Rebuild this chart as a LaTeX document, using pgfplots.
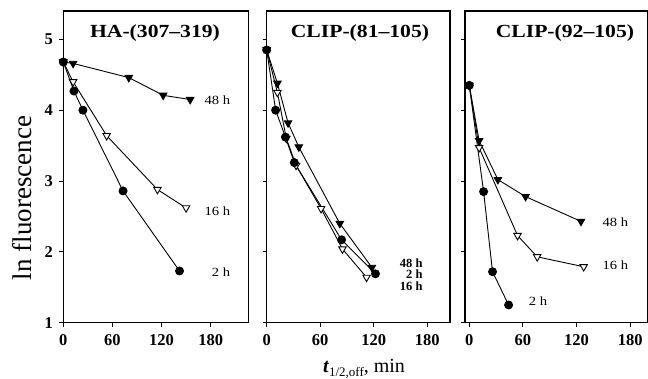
\documentclass[border=0pt]{standalone}
\usepackage{pgfplots}
\pgfplotsset{compat=1.18}
\usepackage{fontspec}
\setmainfont{Liberation Serif}
\pgfplotsset{
  panel/.style={
    scale only axis, height=311.7pt, ymin=1, ymax=5.40,
    axis line style={line width=1.2pt},
    xtick={0,60,120,180}, ytick={1,2,3,4,5},
    tick align=outside, major tick length=4pt,
    every tick/.style={black, line width=1pt},
    xtick pos=bottom, ytick pos=left,
    tick label style={font=\fontsize{16.5}{16.5}\selectfont\bfseries},
    /pgf/number format/assume math mode=true,
    xticklabel style={yshift=-4pt},
    yticklabel style={xshift=-3pt},
    clip=false,
    anchor=south west,
  },
}
\tikzset{
  s48/.style={black, line width=0.9pt, mark=triangle*, mark size=4.3pt, mark options={rotate=180, fill=black, solid}},
  s16/.style={black, line width=0.9pt, mark=triangle*, mark size=4.3pt, mark options={rotate=180, fill=white, solid}},
  s2/.style={black, line width=0.9pt, mark=*, mark size=4pt, mark options={fill=black}},
  lab/.style={font=\fontsize{12.5}{12.5}\selectfont, anchor=east, inner sep=0pt},
  ttl/.style={font=\fontsize{18.5}{18.5}\selectfont\bfseries, anchor=base, inner sep=0pt},
}
\newcommand{\hs}[1]{\scalebox{1.17}[1]{#1}}
\begin{document}
\begin{tikzpicture}
% Panel 1
\begin{axis}[panel, at={(63.3pt,-322.7pt)}, width=185pt, xmin=0, xmax=226]
\addplot[s48] coordinates {(0,4.68) (12,4.66) (80,4.46) (122,4.21) (155,4.15)};
\addplot[s16] coordinates {(0,4.68) (12,4.40) (53,3.64) (115,2.88) (150,2.62)};
\addplot[s2] coordinates {(0,4.68) (13,4.27) (24,4.00) (73,2.86) (142,1.73)};
\node[lab] at (axis cs:204,4.14) {\hs{48 h}};
\node[lab] at (axis cs:204,2.58) {\hs{16 h}};
\node[lab] at (axis cs:204,1.71) {\hs{2 h}};
\node[ttl] at (axis cs:112,5.03) {\hs{HA-(307–319)}};
\end{axis}
% Panel 2
\begin{axis}[panel, at={(266.7pt,-322.7pt)}, width=183.3pt, xmin=0, xmax=205.6, yticklabels={}]
\addplot[s48] coordinates {(0,4.85) (12,4.38) (24,3.82) (36,3.48) (82,2.40) (118,1.78)};
\addplot[s16] coordinates {(0,4.85) (12,4.25) (22,3.60) (33,3.22) (61,2.61) (85,2.04) (112,1.64)};
\addplot[s2] coordinates {(0,4.85) (10,4.00) (21,3.62) (31,3.26) (84,2.17) (122,1.69)};
\node[lab, font=\fontsize{12.5}{12.5}\selectfont\bfseries] at (axis cs:175,1.84) {48 h};
\node[lab, font=\fontsize{12.5}{12.5}\selectfont\bfseries] at (axis cs:175,1.68) {2 h};
\node[lab, font=\fontsize{12.5}{12.5}\selectfont\bfseries] at (axis cs:175,1.52) {16 h};
\node[ttl] at (axis cs:104.6,5.03) {\hs{CLIP-(81–105)}};
\end{axis}
% Panel 3
\begin{axis}[panel, at={(465pt,-322.7pt)}, width=183pt, xmin=-4.8, xmax=200, yticklabels={}]
\addplot[s48] coordinates {(0,4.35) (11,3.57) (32,3.02) (63,2.78) (125,2.43)};
\addplot[s16] coordinates {(0,4.35) (11,3.47) (54,2.23) (76,1.93) (128,1.79)};
\addplot[s2] coordinates {(0,4.35) (16,2.85) (26,1.72) (44,1.25)};
\node[lab] at (axis cs:178,2.42) {\hs{48 h}};
\node[lab] at (axis cs:178,1.81) {\hs{16 h}};
\node[lab] at (axis cs:87.3,1.30) {\hs{2 h}};
\node[ttl] at (axis cs:107,5.03) {\hs{CLIP-(92–105)}};
\end{axis}
\node[rotate=90, inner sep=0pt, font=\fontsize{27}{27}\selectfont] at (22pt,-198pt) {ln fluorescence};
\node[anchor=base, inner sep=0pt] at (364pt,-373pt) {\fontsize{20}{20}\selectfont\textbf{\textit{t}}\raisebox{-3pt}{\fontsize{13}{13}\selectfont 1/2,off}, min};
\pgfresetboundingbox
\path[use as bounding box] (0pt,0pt) rectangle (648pt,-379pt);
\end{tikzpicture}
\end{document}
